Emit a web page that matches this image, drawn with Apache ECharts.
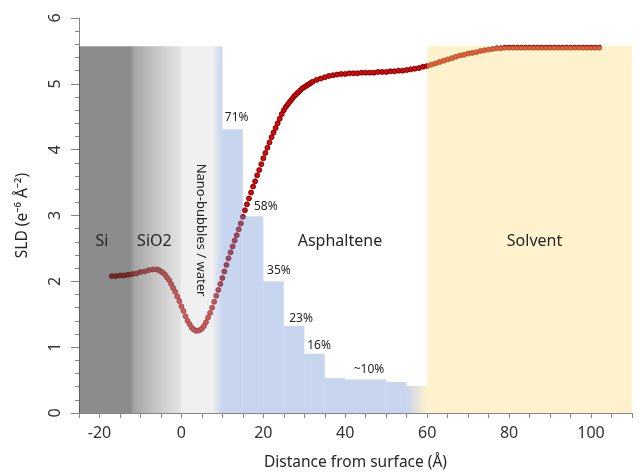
<!DOCTYPE html>
<html>
<head>
<meta charset="utf-8">
<script src="https://cdn.jsdelivr.net/npm/echarts@6/dist/echarts.min.js"></script>
<style>
  html, body { margin: 0; padding: 0; background: #fff; }
  #sld_chart { width: 639px; height: 476px; }
</style>
</head>
<body>
<div id="sld_chart"></div>
<script>
// SLD profile (distance in Å, SLD in 1e-6 Å^-2)
const distance = [
    -17, -16, -15, -14, -13, -12, -11, -10, -9, -8, -7,
    -6, -5.5, -5, -4.5, -4, -3.5, -3, -2.5, -2, -1.5, -1, -0.5,
    0, 0.5, 1, 1.5, 2, 2.5, 3, 3.5, 4, 4.5, 5, 5.5, 6, 6.5, 7, 7.5, 8, 8.5, 9, 9.5,
    10, 10.5, 11, 11.5, 12, 12.5, 13, 13.5, 14, 14.5, 15, 15.5, 16, 16.5, 17, 17.5, 18, 18.5, 19, 19.5,
    20, 20.5, 21, 21.5, 22, 22.5, 23, 23.5, 24, 24.5, 25, 25.5, 26, 26.5, 27, 27.5, 28, 28.5, 29, 29.5,
    30, 30.5, 31, 31.5, 32,
    33, 34, 35, 36, 37, 38, 39, 40, 41, 42, 43, 44, 45, 46, 47, 48, 49, 50,
    51, 52, 53, 54, 55, 56, 57, 58, 59, 60, 61, 62, 63, 64, 65, 66, 67, 68, 69, 70,
    71, 72, 73, 74, 75, 76, 77, 78, 79, 80, 81, 82, 83, 84, 85, 86, 87, 88, 89, 90,
    91, 92, 93, 94, 95, 96, 97, 98, 99, 100, 101, 102
];
const sld = [
    2.08, 2.08, 2.09, 2.09, 2.10, 2.11, 2.12, 2.14, 2.15, 2.17, 2.18,
    2.18, 2.17, 2.15, 2.13, 2.10, 2.06, 2.02, 1.96, 1.90, 1.84, 1.77, 1.70,
    1.62, 1.55, 1.47, 1.40, 1.35, 1.30, 1.27, 1.25, 1.25, 1.26, 1.28, 1.32, 1.38, 1.45, 1.52, 1.60, 1.69, 1.78, 1.87, 1.96,
    2.05, 2.15, 2.25, 2.35, 2.44, 2.53, 2.62, 2.70, 2.79, 2.88, 2.98, 3.08, 3.17, 3.26, 3.35, 3.44, 3.52, 3.61, 3.69, 3.78,
    3.87, 3.95, 4.03, 4.11, 4.19, 4.26, 4.33, 4.40, 4.47, 4.54, 4.60, 4.65, 4.69, 4.73, 4.77, 4.81, 4.84, 4.87, 4.90, 4.93,
    4.95, 4.97, 4.99, 5.01, 5.03,
    5.06, 5.08, 5.10, 5.12, 5.13, 5.14, 5.15, 5.15, 5.16, 5.16, 5.16, 5.17, 5.17, 5.17, 5.17, 5.18, 5.18, 5.18,
    5.19, 5.19, 5.20, 5.20, 5.21, 5.22, 5.23, 5.24, 5.26, 5.27, 5.29, 5.31, 5.33, 5.35, 5.37, 5.39, 5.41, 5.43, 5.44, 5.46,
    5.47, 5.48, 5.50, 5.51, 5.52, 5.53, 5.54, 5.54, 5.55, 5.55, 5.55, 5.55, 5.55, 5.55, 5.55, 5.55, 5.55, 5.55, 5.55, 5.55,
    5.55, 5.55, 5.55, 5.55, 5.55, 5.55, 5.55, 5.55, 5.55, 5.55, 5.55, 5.55
];

// asphaltene volume-fraction steps
const stepStart = [10, 15, 20, 25, 30, 35, 40, 50, 55];
const stepEnd = [15, 20, 25, 30, 35, 40, 50, 55, 60];
const stepSLD = [4.31, 2.99, 2.0, 1.32, 0.9, 0.53, 0.51, 0.47, 0.41];
const stepText = ['71%', '58%', '35%', '23%', '16%', '~10%'];
const stepTextX = [13.5, 20.6, 23.8, 29.2, 33.6, 45.8];
const stepTextY = [4.48, 3.13, 2.16, 1.44, 1.02, 0.66];

// substrate (Si / SiO2 / water) and solvent layers
const layerStart = [-25, 60];
const layerEnd = [10, 110];
const layerTop = [5.57, 5.57];

const regionText = ['Si', 'SiO2', 'Asphaltene', 'Solvent', 'Nano-bubbles / water'];
const regionX = [-19.4, -6.6, 38.7, 86.2, 4.7];
const regionY = [2.6, 2.6, 2.6, 2.6, 2.78];

const chart = echarts.init(document.getElementById('sld_chart'));
const FONT = '"Noto Sans", sans-serif';
const BLUE = 'rgba(118,150,213,0.4)';
const YELLOW = 'rgba(255,222,128,0.4)';

// layer colours, drawn semi transparent over the curve
const substrateFill = new echarts.graphic.LinearGradient(0, 0, 1, 0, [
    { offset: 0, color: 'rgba(63,63,63,0.6)' },
    { offset: 0.357, color: 'rgba(63,63,63,0.6)' },
    { offset: 0.386, color: 'rgba(100,100,100,0.58)' },
    { offset: 0.686, color: 'rgba(184,184,184,0.45)' },
    { offset: 0.708, color: 'rgba(190,190,190,0.42)' },
    { offset: 0.714, color: 'rgba(214,214,214,0.38)' },
    { offset: 0.925, color: 'rgba(214,214,214,0.38)' },
    { offset: 1, color: BLUE }
]);
const layerFills = [substrateFill, YELLOW];
const lastStepFill = new echarts.graphic.LinearGradient(0, 0, 1, 0, [
    { offset: 0, color: BLUE },
    { offset: 1, color: YELLOW }
]);

const rectItem = (api, fill) => {
    const p0 = api.coord([api.value(0), api.value(2)]);
    const p1 = api.coord([api.value(1), 0]);
    return {
        type: 'rect',
        shape: { x: p0[0], y: p0[1], width: p1[0] - p0[0], height: p1[1] - p0[1] },
        style: { fill: fill }
    };
};

const option = {
    animation: false,
    grid: { left: 79, right: 7, top: 18, bottom: 62 },
    xAxis: {
        type: 'value',
        min: -25,
        max: 110,
        interval: 5,
        name: 'Distance from surface (Å)',
        nameLocation: 'middle',
        nameGap: 42,
        nameTextStyle: { fontFamily: FONT, fontSize: 15.5, color: '#262626' },
        axisLine: { onZero: false, lineStyle: { color: '#868686', width: 1 } },
        axisTick: { length: 5, lineStyle: { color: '#868686' } },
        axisLabel: {
            margin: 12,
            fontFamily: FONT,
            fontSize: 16,
            color: '#333',
            formatter: v => (v % 20 === 0 ? String(v) : '')
        },
        splitLine: { show: false }
    },
    yAxis: {
        type: 'value',
        min: 0,
        max: 6,
        interval: 1,
        name: 'SLD (e⁻⁶ Å⁻²)',
        nameLocation: 'middle',
        nameGap: 48,
        nameTextStyle: { fontFamily: FONT, fontSize: 15.5, color: '#262626' },
        axisLine: { show: true, onZero: false, lineStyle: { color: '#868686', width: 1 } },
        axisTick: { show: true, length: 8, lineStyle: { color: '#868686' } },
        minorTick: { show: true, splitNumber: 5, length: 4, lineStyle: { color: '#868686' } },
        axisLabel: { rotate: 90, margin: 16, fontFamily: FONT, fontSize: 16, color: '#333' },
        splitLine: { show: false }
    },
    series: [
        {
            type: 'scatter',
            z: 2,
            silent: true,
            symbolSize: 5,
            itemStyle: { color: '#f00000', borderColor: '#420000', borderWidth: 0.8, opacity: 1 },
            data: distance.map((d, i) => [d, sld[i]])
        },
        {
            type: 'custom',
            z: 3,
            silent: true,
            data: layerStart.map((s, i) => [s, layerEnd[i], layerTop[i]]),
            renderItem: (params, api) => rectItem(api, layerFills[params.dataIndex])
        },
        {
            type: 'custom',
            z: 3,
            silent: true,
            data: stepStart.map((s, i) => [s, stepEnd[i], stepSLD[i]]),
            renderItem: (params, api) =>
                rectItem(api, params.dataIndex === stepStart.length - 1 ? lastStepFill : BLUE)
        },
        {
            type: 'custom',
            z: 4,
            silent: true,
            data: stepTextX.map((x, i) => [x, stepTextY[i]]),
            renderItem: (params, api) => {
                const p = api.coord([api.value(0), api.value(1)]);
                return {
                    type: 'text',
                    x: p[0],
                    y: p[1],
                    style: {
                        text: stepText[params.dataIndex],
                        fill: '#262626',
                        fontFamily: FONT,
                        fontSize: 12,
                        align: 'center',
                        verticalAlign: 'middle'
                    }
                };
            }
        },
        {
            type: 'custom',
            z: 4,
            silent: true,
            data: regionX.map((x, i) => [x, regionY[i]]),
            renderItem: (params, api) => {
                const p = api.coord([api.value(0), api.value(1)]);
                const vertical = params.dataIndex === regionText.length - 1;
                return {
                    type: 'text',
                    x: p[0],
                    y: p[1],
                    rotation: vertical ? -Math.PI / 2 : 0,
                    style: {
                        text: regionText[params.dataIndex],
                        fill: '#262626',
                        fontFamily: FONT,
                        fontSize: vertical ? 13 : 16,
                        align: 'center',
                        verticalAlign: 'middle'
                    }
                };
            }
        }
    ]
};

chart.setOption(option);
</script>
</body>
</html>
